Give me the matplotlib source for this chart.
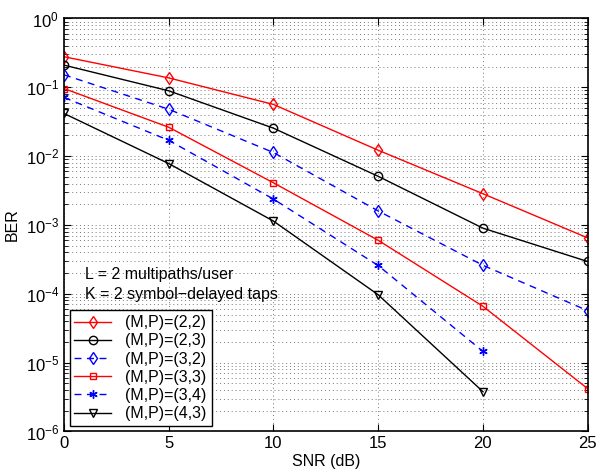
import matplotlib
matplotlib.use("Agg")
import matplotlib.pyplot as plt
from matplotlib.ticker import LogLocator, NullFormatter, FixedLocator

plt.rcParams["font.family"] = ["Liberation Sans", "DejaVu Sans"]
plt.rcParams["mathtext.fontset"] = "custom"
plt.rcParams["mathtext.rm"] = "Liberation Sans"
plt.rcParams["mathtext.it"] = "Liberation Sans:italic"

# SNR points (dB)
snr = [0, 5, 10, 15, 20, 25]
snr_short = [0, 5, 10, 15, 20]

# BER curves
ber_22 = [0.278, 0.137, 0.0564, 0.0122, 0.00285, 6.5e-4]
ber_23 = [0.21, 0.089, 0.0255, 0.0051, 9.0e-4, 2.95e-4]
ber_32 = [0.152, 0.048, 0.0113, 0.0016, 2.6e-4, 5.7e-5]
ber_33 = [0.096, 0.0263, 0.0041, 6.0e-4, 6.6e-5, 4.2e-6]
ber_34 = [0.0713, 0.017, 0.00238, 2.58e-4, 1.46e-5]
ber_43 = [0.0417, 0.0078, 0.00114, 9.7e-5, 3.8e-6]

labels = ["(M,P)=(2,2)", "(M,P)=(2,3)", "(M,P)=(3,2)",
          "(M,P)=(3,3)", "(M,P)=(3,4)", "(M,P)=(4,3)"]

fig = plt.figure(figsize=(5.97, 4.75), dpi=100)
ax = fig.add_axes([0.1072, 0.0916, 0.8770, 0.8695])

dash = (5, 4)
ax.semilogy(snr, ber_22, "r-d", mfc="none", ms=6, lw=1, label=labels[0])
ax.semilogy(snr, ber_23, "k-o", mfc="none", ms=6, lw=1, label=labels[1])
ax.semilogy(snr, ber_32, "b--d", mfc="none", ms=6, lw=1, label=labels[2], dashes=dash)
ax.semilogy(snr, ber_33, "r-s", mfc="none", ms=5, lw=1, label=labels[3])
ax.semilogy(snr_short, ber_34, "b--", marker=(6, 2, 0), ms=6, mew=1, lw=1,
            label=labels[4], dashes=dash)
ax.semilogy(snr_short, ber_43, "k-v", mfc="none", ms=6, lw=1, label=labels[5])

ax.set_xlim(0, 25)
ax.set_ylim(1e-6, 1)
ax.set_xticks([0, 5, 10, 15, 20, 25])
ax.yaxis.set_major_locator(FixedLocator([1e-6, 1e-5, 1e-4, 1e-3, 1e-2, 1e-1, 1]))
minor = [m * 10.0 ** e for e in range(-6, 0) for m in range(2, 10)]
ax.yaxis.set_minor_locator(FixedLocator(minor))
ax.yaxis.set_minor_formatter(NullFormatter())

grid_style = dict(linestyle=(0, (1, 3)), color="#777777", lw=0.7)
ax.grid(True, which="major", **grid_style)
ax.grid(True, which="minor", axis="y", **grid_style)

ax.tick_params(which="both", direction="in", top=True, right=True, labelsize=12)
ax.tick_params(which="major", length=5)
ax.tick_params(which="minor", length=3)
for s in ax.spines.values():
    s.set_linewidth(1.2)

ax.set_xlabel("SNR (dB)", fontsize=11.5, labelpad=2)
ax.set_ylabel("BER", fontsize=11.5, labelpad=4)

ax.text(1.0, 1.91e-4, "L = 2 multipaths/user", fontsize=11.5, va="center")
ax.text(1.0, 9.8e-5, "K = 2 symbol\u2212delayed taps", fontsize=11.5, va="center")

leg = ax.legend(loc="lower left", fontsize=11.5, fancybox=False, edgecolor="black",
                framealpha=1, handlelength=2.3, borderpad=0.3, labelspacing=0.2,
                borderaxespad=0.35, handletextpad=0.9)
leg.get_frame().set_linewidth(1)

fig.savefig("out.png", dpi=100)
